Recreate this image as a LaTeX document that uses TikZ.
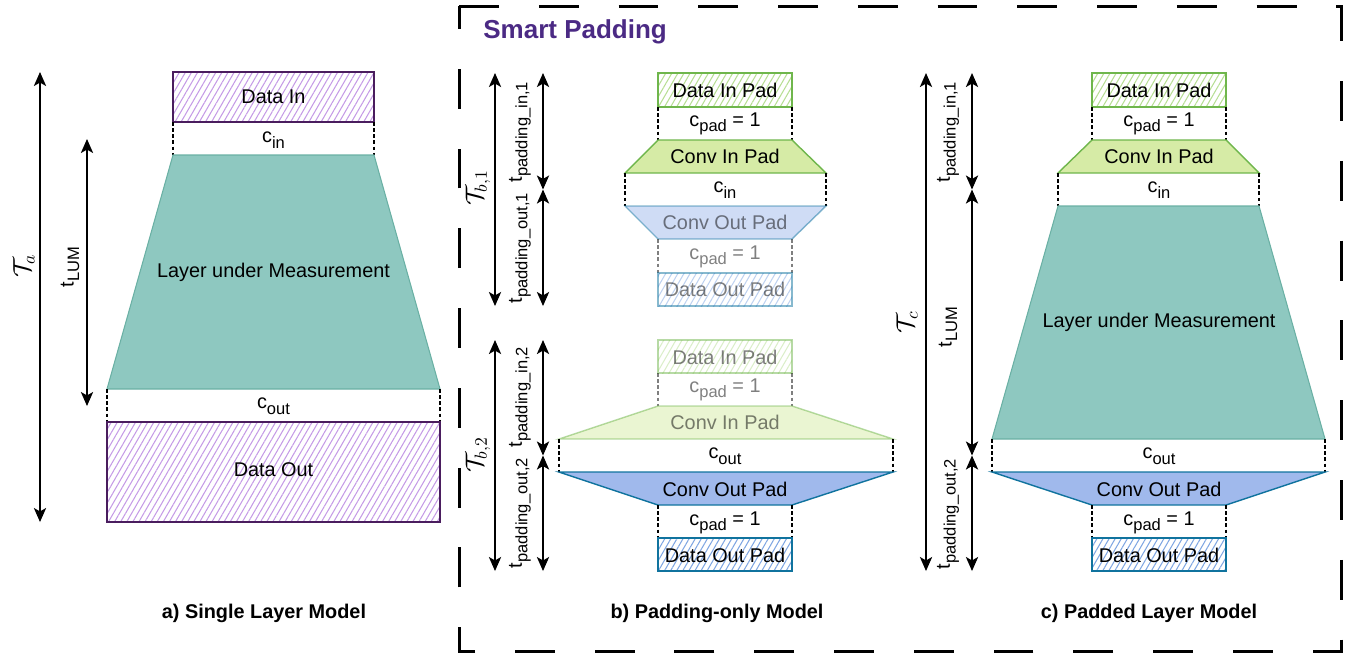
\documentclass[tikz,border=0pt]{standalone}
\usepackage{fontspec}
\setmainfont{Liberation Sans}
\usetikzlibrary{arrows.meta,patterns.meta}

\definecolor{lumfill}{HTML}{8EC8C0}
\definecolor{lumline}{HTML}{6AB0A4}
\definecolor{dataline}{HTML}{4A1D5E}
\definecolor{datahatch}{HTML}{C59BE6}
\definecolor{padgreen}{HTML}{6FB64C}
\definecolor{padgreenfill}{HTML}{D6EBA6}
\definecolor{padgreenhatch}{HTML}{B7DE94}
\definecolor{padblue}{HTML}{10739E}
\definecolor{padbluefill}{HTML}{A0B9EC}
\definecolor{padbluehatch}{HTML}{7FA6E2}
\definecolor{smartpurple}{HTML}{4B2A84}

% subscript as draw.io sets it
\newcommand{\dsub}[1]{\raisebox{-0.28em}{\fontsize{9.4}{10}\selectfont #1}}

\begin{document}
\begin{tikzpicture}[x=0.02cm, y=-0.02cm,
    every node/.style={font=\fontsize{11.3}{13}\selectfont, inner sep=0pt},
    databox/.style={draw=dataline, line width=1.2pt, pattern={Lines[angle=60,distance=3pt,line width=0.6pt]}, pattern color=datahatch},
    inpadbox/.style={draw=padgreen, line width=1.2pt, pattern={Lines[angle=60,distance=3pt,line width=0.6pt]}, pattern color=padgreenhatch},
    outpadbox/.style={draw=padblue, line width=1.2pt, pattern={Lines[angle=60,distance=3pt,line width=0.6pt]}, pattern color=padbluehatch},
    lumshape/.style={fill=lumfill, draw=lumline, line width=0.6pt},
    convin/.style={fill=padgreenfill, draw=padgreen, line width=0.8pt},
    convout/.style={fill=padbluefill, draw=padblue, line width=0.8pt},
    gap/.style={dash pattern=on 2pt off 1.5pt, line width=0.7pt},
    dim/.style={>={Stealth[length=8pt,width=7pt,inset=2pt]}, <->, line width=0.8pt},
    faded/.style={opacity=0.5},
    caption/.style={font=\fontsize{11.3}{13}\selectfont\bfseries},
    timelabel/.style={rotate=90},
    mathlabel/.style={rotate=90, font=\fontsize{14}{16}\selectfont}]

    \useasboundingbox (0,0) rectangle (1361,657);

    %%% a) Single Layer Model
    \path[databox] (173,72) rectangle (374,122);
    \node (dia) at (273.5,97) {Data In};
    \draw[gap] (173,122) -- (173,155) (374,122) -- (374,155);
    \node (cina) at (273.5,140) {c\dsub{in}};
    \path[lumshape] (173,155) -- (374,155) -- (440,389) -- (107,389) -- cycle;
    \node (luma) at (273.5,272) {Layer under Measurement};
    \draw[gap] (107,389) -- (107,422) (440,389) -- (440,422);
    \node (couta) at (273.5,406) {c\dsub{out}};
    \path[databox] (107,422) rectangle (440,522);
    \node (doa) at (273.5,470) {Data Out};

    \coordinate (ta1) at (40,72);
    \coordinate (ta2) at (40,522);
    \coordinate (la1) at (87,139);
    \coordinate (la2) at (87,406);
    \draw[dim] (ta1) -- (ta2);
    \draw[dim] (la1) -- (la2);
    \node[mathlabel] (tal) at (24,266) {$\mathcal{T}_a$};
    \node[timelabel] (lal) at (70,267) {t\dsub{LUM}};

    \node[caption] (capa) at (264,613) {a) Single Layer Model};

    %%% Smart Padding frame
    \draw[line width=1.7pt, dash pattern=on 22.7pt off 22.7pt] (459,6) -- (1341,6) -- (1341,651) -- (459,651) -- cycle;
    \node[anchor=west, font=\fontsize{14.8}{17}\selectfont\bfseries, text=smartpurple] (smart) at (483,32) {Smart Padding};

    %%% b) Padding-only Model, first layer
    \path[inpadbox] (658,73) rectangle (792,107);
    \node (dipb1) at (725,90) {Data In Pad};
    \draw[gap] (658,107) -- (658,140) (792,107) -- (792,140);
    \node (cpb1) at (725,124) {c\dsub{pad} = 1};
    \path[convin] (658,140) -- (792,140) -- (826,173) -- (625,173) -- cycle;
    \node (cipb1) at (725,156) {Conv In Pad};
    \draw[gap] (625,173) -- (625,206) (826,173) -- (826,206);
    \node (cinb1) at (725,190) {c\dsub{in}};
    \begin{scope}[faded]
      \path[convout] (625,206) -- (826,206) -- (792,239) -- (658,239) -- cycle;
      \node (copb1) at (725,222) {Conv Out Pad};
      \draw[gap] (658,239) -- (658,273) (792,239) -- (792,273);
      \node (cpb1b) at (725,257) {c\dsub{pad} = 1};
      \path[outpadbox] (658,273) rectangle (792,306);
      \node (dopb1) at (725,289) {Data Out Pad};
    \end{scope}

    \coordinate (tb1a) at (495,73);
    \coordinate (tb1b) at (495,306);
    \coordinate (pb1a) at (543,73);
    \coordinate (pb1m) at (543,189.5);
    \coordinate (pb1b) at (543,306);
    \draw[dim] (tb1a) -- (tb1b);
    \draw[dim] (pb1a) -- (pb1m);
    \draw[dim] (pb1m) -- (pb1b);
    \node[mathlabel] (tb1l) at (478,188) {$\mathcal{T}_{b,1}$};
    \node[timelabel] (pib1l) at (520,132) {t\dsub{padding\_in,1}};
    \node[timelabel] (pob1l) at (520,248) {t\dsub{padding\_out,1}};

    %%% b) Padding-only Model, second layer
    \begin{scope}[faded]
      \path[inpadbox] (658,340) rectangle (792,373);
      \node (dipb2) at (725,357) {Data In Pad};
      \draw[gap] (658,373) -- (658,406) (792,373) -- (792,406);
      \node (cpb2) at (725,390) {c\dsub{pad} = 1};
      \path[convin] (658,406) -- (792,406) -- (893,439) -- (559,439) -- cycle;
      \node (cipb2) at (725,422) {Conv In Pad};
    \end{scope}
    \draw[gap] (559,439) -- (559,472) (893,439) -- (893,472);
    \node (coutb2) at (725,456) {c\dsub{out}};
    \path[convout] (559,472) -- (893,472) -- (792,505) -- (658,505) -- cycle;
    \node (copb2) at (725,489) {Conv Out Pad};
    \draw[gap] (658,505) -- (658,538) (792,505) -- (792,538);
    \node (cpb2b) at (725,523) {c\dsub{pad} = 1};
    \path[outpadbox] (658,538) rectangle (792,571);
    \node (dopb2) at (725,555) {Data Out Pad};

    \coordinate (tb2a) at (495,340);
    \coordinate (tb2b) at (495,571);
    \coordinate (pb2a) at (543,340);
    \coordinate (pb2m) at (543,455.5);
    \coordinate (pb2b) at (543,571);
    \draw[dim] (tb2a) -- (tb2b);
    \draw[dim] (pb2a) -- (pb2m);
    \draw[dim] (pb2m) -- (pb2b);
    \node[mathlabel] (tb2l) at (478,455) {$\mathcal{T}_{b,2}$};
    \node[timelabel] (pib2l) at (520,397) {t\dsub{padding\_in,2}};
    \node[timelabel] (pob2l) at (520,513) {t\dsub{padding\_out,2}};

    \node[caption] (capb) at (717,613) {b) Padding-only Model};

    %%% c) Padded Layer Model
    \path[inpadbox] (1092,73) rectangle (1226,107);
    \node (dipc) at (1159,90) {Data In Pad};
    \draw[gap] (1092,107) -- (1092,140) (1226,107) -- (1226,140);
    \node (cpc) at (1159,124) {c\dsub{pad} = 1};
    \path[convin] (1092,140) -- (1226,140) -- (1259,173) -- (1058,173) -- cycle;
    \node (cipc) at (1159,156) {Conv In Pad};
    \draw[gap] (1058,173) -- (1058,206) (1259,173) -- (1259,206);
    \node (cinc) at (1159,190) {c\dsub{in}};
    \path[lumshape] (1058,206) -- (1259,206) -- (1325,439) -- (992,439) -- cycle;
    \node (lumc) at (1159,322) {Layer under Measurement};
    \draw[gap] (992,439) -- (992,472) (1325,439) -- (1325,472);
    \node (coutc) at (1159,456) {c\dsub{out}};
    \path[convout] (992,472) -- (1325,472) -- (1226,505) -- (1092,505) -- cycle;
    \node (copc) at (1159,489) {Conv Out Pad};
    \draw[gap] (1092,505) -- (1092,538) (1226,505) -- (1226,538);
    \node (cpcb) at (1159,523) {c\dsub{pad} = 1};
    \path[outpadbox] (1092,538) rectangle (1226,571);
    \node (dopc) at (1159,555) {Data Out Pad};

    \coordinate (tca) at (926,73);
    \coordinate (tcb) at (926,571);
    \coordinate (pca) at (972,73);
    \coordinate (pcm1) at (972,189.5);
    \coordinate (pcm2) at (972,455.5);
    \coordinate (pcb) at (972,571);
    \draw[dim] (tca) -- (tcb);
    \draw[dim] (pca) -- (pcm1);
    \draw[dim] (pcm1) -- (pcm2);
    \draw[dim] (pcm2) -- (pcb);
    \node[mathlabel] (tcl) at (907,322) {$\mathcal{T}_c$};
    \node[timelabel] (picl) at (948,132) {t\dsub{padding\_in,1}};
    \node[timelabel] (lcl) at (948,327) {t\dsub{LUM}};
    \node[timelabel] (pocl) at (948,514) {t\dsub{padding\_out,2}};

    \node[caption] (capc) at (1149,613) {c) Padded Layer Model};

\end{tikzpicture}
\end{document}
